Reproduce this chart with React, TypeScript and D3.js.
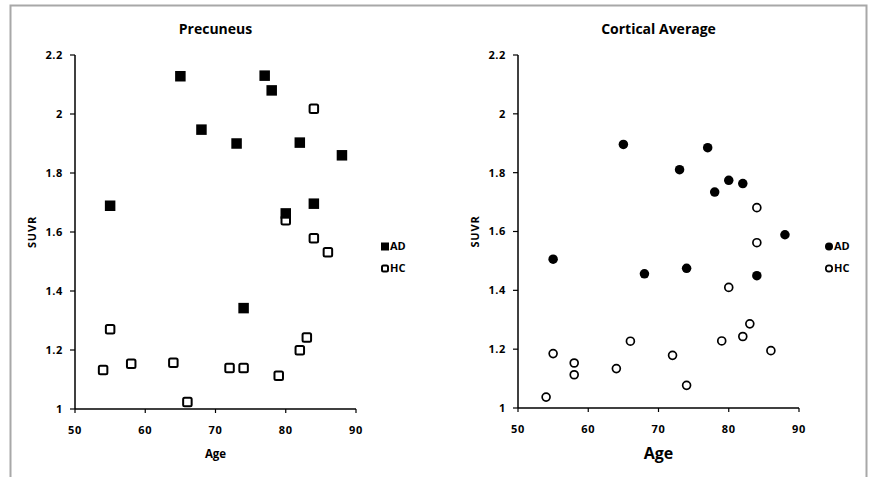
import React from "react";
import * as d3 from "d3";

// values (age in years, SUVR)
const precuneusADAge = [65, 77, 78, 68, 73, 82, 88, 55, 84, 80, 74];
const precuneusADSuvr = [2.128, 2.13, 2.08, 1.947, 1.9, 1.903, 1.86, 1.689, 1.696, 1.663, 1.342];
const precuneusHCAge = [84, 80, 84, 86, 55, 54, 58, 64, 66, 72, 74, 79, 82, 83];
const precuneusHCSuvr = [2.018, 1.64, 1.579, 1.531, 1.27, 1.132, 1.153, 1.157, 1.024, 1.139, 1.139, 1.113, 1.199, 1.242];

const corticalADAge = [65, 77, 73, 80, 82, 78, 88, 55, 68, 74, 84];
const corticalADSuvr = [1.896, 1.885, 1.81, 1.774, 1.763, 1.734, 1.589, 1.506, 1.456, 1.475, 1.45];
const corticalHCAge = [84, 84, 80, 83, 82, 79, 86, 66, 72, 55, 58, 58, 64, 74, 54];
const corticalHCSuvr = [1.681, 1.562, 1.41, 1.286, 1.243, 1.228, 1.195, 1.227, 1.179, 1.185, 1.153, 1.113, 1.134, 1.077, 1.037];

const xTicks = [50, 60, 70, 80, 90];
const yTicks = [1, 1.2, 1.4, 1.6, 1.8, 2, 2.2];
const seriesNames = ["AD", "HC"];

const font = "'Open Sans', Lato, sans-serif";

const zip = (a: number[], b: number[]) => a.map((v, i) => ({ age: v, suvr: b[i] }));

type PanelProps = {
    title: string;
    x0: number;
    x1: number;
    yTop: number;
    yBottom: number;
    ad: { age: number; suvr: number }[];
    hc: { age: number; suvr: number }[];
    shape: "square" | "circle";
    legendX: number;
    ageSize: number;
};

const Marker = ({ cx, cy, shape, filled, size }: { cx: number; cy: number; shape: string; filled: boolean; size: number }) => {
    if (shape === "square") {
        return filled ? (
            <rect x={cx - size / 2} y={cy - size / 2} width={size} height={size} fill="#000" />
        ) : (
            <rect x={cx - size / 2 + 1} y={cy - size / 2 + 1} width={size - 2} height={size - 2} rx={1.5} fill="#fff" stroke="#000" strokeWidth={2} />
        );
    }
    return filled ? (
        <circle cx={cx} cy={cy} r={size / 2} fill="#000" />
    ) : (
        <circle cx={cx} cy={cy} r={size / 2 - 0.8} fill="#fff" stroke="#000" strokeWidth={1.7} />
    );
};

const Panel = ({ title, x0, x1, yTop, yBottom, ad, hc, shape, legendX, ageSize }: PanelProps) => {
    const xScale = d3.scaleLinear().domain([50, 90]).range([x0, x1]);
    const yScale = d3.scaleLinear().domain([1, 2.2]).range([yBottom, yTop]);
    const mSize = shape === "square" ? 10.5 : 9.5;

    return (
        <g fontFamily={font} fontWeight="bold" fill="#000">
            {/* title */}
            <text x={(x0 + x1) / 2} y={34} textAnchor="middle" fontSize={14}>{title}</text>

            {/* y axis */}
            <line x1={x0} y1={yScale(2.2)} x2={x0} y2={yScale(1)} stroke="#000" strokeWidth={1.5} />
            {yTicks.map((t) => (
                <g key={t}>
                    <line x1={x0 - 5} y1={yScale(t)} x2={x0} y2={yScale(t)} stroke="#000" strokeWidth={1.2} />
                    <text x={x0 - 12} y={yScale(t)} dy="0.35em" textAnchor="end" fontSize={11} letterSpacing={0.6}>{d3.format("~g")(t)}</text>
                </g>
            ))}

            {/* x axis */}
            <line x1={xScale(50)} y1={yBottom} x2={xScale(90)} y2={yBottom} stroke="#000" strokeWidth={1.5} />
            {xTicks.map((t) => (
                <g key={t}>
                    <line x1={xScale(t)} y1={yBottom} x2={xScale(t)} y2={yBottom + 4} stroke="#000" strokeWidth={1.2} />
                    <text x={xScale(t)} y={yBottom + 25} textAnchor="middle" fontSize={11} letterSpacing={0.6}>{t}</text>
                </g>
            ))}

            {/* axis titles */}
            <text x={(x0 + x1) / 2} y={yBottom + (ageSize > 12 ? 51 : 49)} textAnchor="middle" fontSize={ageSize}>Age</text>
            <text transform={`translate(${x0 - 43},${yScale(1.6)}) rotate(-90)`} textAnchor="middle" dy="0.35em" fontSize={11} letterSpacing={0.8}>SUVR</text>

            {/* points */}
            {hc.map((d, i) => (
                <Marker key={"hc" + i} cx={xScale(d.age)} cy={yScale(d.suvr)} shape={shape} filled={false} size={mSize} />
            ))}
            {ad.map((d, i) => (
                <Marker key={"ad" + i} cx={xScale(d.age)} cy={yScale(d.suvr)} shape={shape} filled={true} size={mSize} />
            ))}

            {/* legend */}
            {seriesNames.map((name, i) => (
                <g key={name}>
                    <Marker cx={legendX} cy={246.5 + i * 22} shape={shape} filled={i === 0} size={8} />
                    <text x={legendX + 5} y={246.5 + i * 22} dy="0.35em" fontSize={11}>{name}</text>
                </g>
            ))}
        </g>
    );
};

const App = () => {
    const width = 870;
    const height = 477;
    return (
        <div style={{ position: "absolute", left: 0, top: 0 }}>
            <svg width={width} height={height} style={{ display: "block", background: "#fff" }}>
                {/* outer frame */}
                <path d={`M10.5,${height} V5.5 H866.5 V${height}`} fill="none" stroke="#a8a8a8" strokeWidth={2} />
                <Panel
                    title="Precuneus"
                    x0={75}
                    x1={356}
                    yTop={55}
                    yBottom={409}
                    ad={zip(precuneusADAge, precuneusADSuvr)}
                    hc={zip(precuneusHCAge, precuneusHCSuvr)}
                    shape="square"
                    legendX={385}
                    ageSize={11.5}
                />
                <Panel
                    title="Cortical Average"
                    x0={518}
                    x1={799}
                    yTop={55}
                    yBottom={408}
                    ad={zip(corticalADAge, corticalADSuvr)}
                    hc={zip(corticalHCAge, corticalHCSuvr)}
                    shape="circle"
                    legendX={829}
                    ageSize={16}
                />
            </svg>
        </div>
    );
};

export default App;
